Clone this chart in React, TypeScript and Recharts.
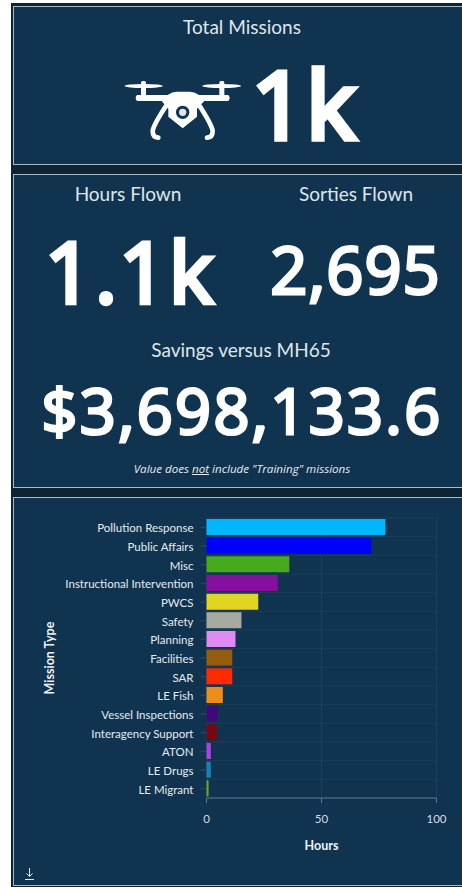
import React from 'react';
import { BarChart, Bar, Cell, XAxis, YAxis, CartesianGrid } from 'recharts';

const missionTypes = [
  'Pollution Response', 'Public Affairs', 'Misc', 'Instructional Intervention', 'PWCS',
  'Safety', 'Planning', 'Facilities', 'SAR', 'LE Fish',
  'Vessel Inspections', 'Interagency Support', 'ATON', 'LE Drugs', 'LE Migrant',
];
const hours = [77.8, 71.7, 36, 31, 22.5, 15.2, 12.6, 11.2, 11.2, 7.1, 4.9, 4.5, 1.9, 1.9, 0.9];
const barColors = [
  '#00b7ff', '#0000ff', '#47a91c', '#850f9e', '#e3d422',
  '#a9a9a4', '#e18bf2', '#945c0c', '#ff2a00', '#ee8c1c',
  '#3f0a78', '#7d0510', '#b13fe0', '#1a7fb5', '#6fa52c',
];
const xTicks = [0, 50, 100];

const chartData = missionTypes.map((name, i) => ({ name, hours: hours[i] }));

const PANEL = '#103450';
const EDGE = '#a9bac6';
const FONT = 'Lato, sans-serif';
const BIG_FONT = '"Open Sans", sans-serif';

function Panel({ top, height }: { top: number; height: number }) {
  return (
    <div style={{ position: 'absolute', left: 13, top, width: 449, height, boxSizing: 'border-box', background: PANEL, border: `1px solid ${EDGE}`, borderRight: 'none' }} />
  );
}

function Txt({ x, y, size, children, color = '#fff', italic = false, font = FONT, spacing = 0, stroke = 0 }: any) {
  return (
    <div style={{ position: 'absolute', left: x - 300, width: 600, top: y - size, height: size * 2, lineHeight: `${size * 2}px`, textAlign: 'center', fontFamily: font, fontSize: size, color, fontStyle: italic ? 'italic' : 'normal', letterSpacing: spacing, whiteSpace: 'nowrap', WebkitTextStroke: stroke ? `${stroke}px ${color}` : undefined }}>
      {children}
    </div>
  );
}

// traced icon, viewBox is 3x the pixel box it sits in
function Drone() {
  return (
    <svg style={{ position: 'absolute', left: 115, top: 60 }} width={135} height={90} viewBox="0 0 405 270" fill="#fff">
      <ellipse cx="86" cy="78" rx="57" ry="6" />
      <ellipse cx="320" cy="78" rx="58" ry="6" />
      <rect x="78" y="63" width="15" height="48" rx="5" />
      <rect x="313" y="63" width="15" height="48" rx="5" />
      <path d="M66 105 H158 Q172 95 185 95 H225 Q238 95 252 105 H340 Q348 114 340 123 H268 L246 146 V170 L203 205 L160 170 V146 L140 123 H66 Q58 114 66 105 Z" />
      <path d="M155 135 Q118 190 113 212 Q113 232 130 233" fill="none" stroke="#fff" strokeWidth="14" strokeLinecap="round" />
      <path d="M252 135 Q288 190 293 212 Q293 232 276 233" fill="none" stroke="#fff" strokeWidth="14" strokeLinecap="round" />
      <circle cx="203" cy="157" r="20" fill={PANEL} />
      <circle cx="203" cy="157" r="11" fill="#dfe6eb" />
    </svg>
  );
}

export default function App() {
  return (
    <div style={{ position: 'absolute', left: 0, top: 0, width: 462, height: 887, background: '#fff', overflow: 'hidden' }}>
      <div style={{ position: 'absolute', left: 11, top: 3, width: 451, height: 884, background: '#0e2433' }} />
      <Panel top={6} height={159} />
      <Panel top={174} height={314} />
      <Panel top={497} height={389} />

      <Txt x={242} y={27} size={19} color="#dfe6eb">Total Missions</Txt>
      <Drone />
      <Txt x={304} y={103} size={94} font={BIG_FONT} stroke={5.5} spacing={1}>1k</Txt>

      <Txt x={128} y={194} size={19} color="#dfe6eb">Hours Flown</Txt>
      <Txt x={356} y={194} size={19} color="#dfe6eb">Sorties Flown</Txt>
      <Txt x={130} y={271} size={84} font={BIG_FONT} spacing={2} stroke={4.5}>1.1k</Txt>
      <Txt x={355.5} y={269} size={65} font={BIG_FONT} spacing={1} stroke={3}>2,695</Txt>
      <Txt x={241} y={350} size={19} color="#dfe6eb">Savings versus MH65</Txt>
      <Txt x={242} y={410} size={63} font={BIG_FONT} spacing={2.3} stroke={3}>$3,698,133.6</Txt>
      <Txt x={242} y={469} size={11.6} italic color="#e6ebef" font={BIG_FONT}>
        Value does <span style={{ textDecoration: 'underline' }}>not</span> include "Training" missions
      </Txt>

      <div style={{ position: 'absolute', left: 13, top: 497 }}>
        <BarChart
          width={449}
          height={388}
          data={chartData}
          layout="vertical"
          margin={{ top: 21, right: 25.5, bottom: 0, left: 0 }}
          barSize={16}
        >
          <CartesianGrid
            stroke="#ffffff"
            strokeOpacity={0.05}
            horizontalCoordinatesGenerator={({ offset }: any) =>
              missionTypes.map((_, i) => offset.top + (i * offset.height) / missionTypes.length).concat(offset.top + offset.height)
            }
            verticalValues={xTicks}
          />
          <XAxis
            type="number"
            dataKey="hours"
            domain={[0, 100]}
            ticks={xTicks}
            height={87}
            tickLine={{ stroke: '#5f7587' }}
            axisLine={{ stroke: '#5f7587' }}
            tickSize={5}
            tickMargin={12}
            tick={{ fill: '#d5dde3', fontSize: 11.5, fontFamily: FONT }}
            label={{ value: 'Hours', position: 'insideBottom', offset: 35, fill: '#eef2f5', fontSize: 12.5, fontWeight: 700, fontFamily: FONT }}
          />
          <YAxis
            type="category"
            dataKey="name"
            width={193.5}
            interval={0}
            axisLine={false}
            tickLine={{ stroke: '#2c4c66' }}
            tickSize={6}
            tickMargin={7}
            tick={{ fill: '#e6ebef', fontSize: 11.5, fontFamily: FONT, dy: 1 }}
            label={{ value: 'Mission Type', angle: -90, position: 'insideLeft', offset: 37, fill: '#eef2f5', fontSize: 12.5, fontWeight: 700, fontFamily: FONT, style: { textAnchor: 'middle' } }}
          />
          <Bar dataKey="hours" isAnimationActive={false}>
            {chartData.map((d, i) => (
              <Cell key={d.name} fill={barColors[i]} />
            ))}
          </Bar>
        </BarChart>
      </div>

      <svg style={{ position: 'absolute', left: 24, top: 867 }} width={11} height={14} fill="none" stroke="#e6ebef" strokeWidth={1}>
        <path d="M5.5 1 V9 M2.5 6.5 L5.5 9.5 L8.5 6.5 M1 12.5 H10" />
      </svg>
    </div>
  );
}
